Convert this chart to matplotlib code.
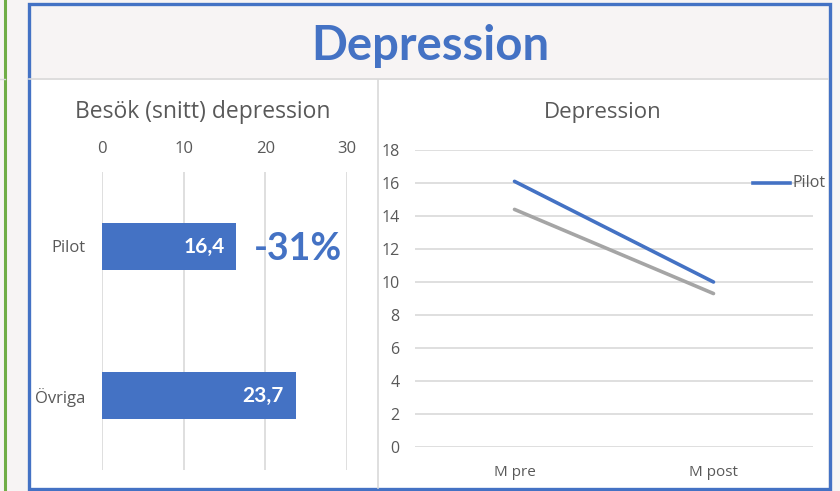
import matplotlib
matplotlib.use("Agg")
import matplotlib.pyplot as plt
from matplotlib.patches import Rectangle
from matplotlib.lines import Line2D

# data
bar_cats = ["Pilot", "Övriga"]
bar_vals = [16.4, 23.7]
bar_labels = ["16,4", "23,7"]
change_label = "-31%"

line_cats = ["M pre", "M post"]
pilot_vals = [16.1, 10.0]
other_vals = [14.4, 9.3]

BLUE = "#4472C4"
GRAY = "#A5A5A5"
GRID = "#D9D9D9"
TXT = "#595959"
BG = "#F7F4F4"

W, H = 840, 491
fig = plt.figure(figsize=(W / 100, H / 100), dpi=100, facecolor=BG)


def box(x0, y0, x1, y1):
    # pixel box (top-left origin) -> figure fraction rect
    return [x0 / W, 1 - y1 / H, (x1 - x0) / W, (y1 - y0) / H]


# page decorations
fig.add_artist(Line2D([5 / W, 5 / W], [0, 1], color="#70AD47", lw=2.2))
fig.add_artist(Line2D([0, 5 / W], [1 - 79 / H, 1 - 79 / H], color=GRID, lw=1))
fig.add_artist(Rectangle((29 / W, 1 - 488 / H), 799 / W, 408 / H,
                         facecolor="white", edgecolor="none", zorder=-5))
fig.add_artist(Line2D([29 / W, 828 / W], [1 - 79 / H, 1 - 79 / H], color=GRID, lw=1.2))
fig.add_artist(Line2D([378 / W, 378 / W], [1 - 80 / H, 1 - 488 / H], color=GRID, lw=1.2))
fig.add_artist(Rectangle((29 / W, 1 - 489 / H), 801 / W, 485 / H,
                         facecolor="none", edgecolor=BLUE, lw=2.4))

fig.text(430 / W, 1 - 46 / H, "Depression", ha="center", va="center",
         fontsize=34, fontweight="bold", color=BLUE, family="Lato")

# left: bar chart
ax1 = fig.add_axes(box(102, 172, 347, 470))
ypos = [1, 0]
ax1.barh(ypos, bar_vals, height=0.31, color=BLUE)
for y, v, lab in zip(ypos, bar_vals, bar_labels):
    ax1.text(v - 1.4, y, lab, ha="right", va="center", color="white",
             fontsize=15, fontweight="bold", family="Lato")
ax1.set_xlim(0, 30)
ax1.set_ylim(-0.5, 1.5)
ax1.set_xticks([0, 10, 20, 30])
ax1.set_yticks(ypos)
ax1.set_yticklabels(bar_cats)
ax1.xaxis.tick_top()
ax1.tick_params(axis="x", length=0, pad=11, labelsize=12, labelcolor=TXT)
ax1.tick_params(axis="y", length=0, pad=12, labelsize=12, labelcolor=TXT)
for lab in ax1.get_xticklabels() + ax1.get_yticklabels():
    lab.set_family("Open Sans")
ax1.grid(axis="x", color=GRID, lw=1.2)
ax1.set_axisbelow(True)
for s in ax1.spines.values():
    s.set_visible(False)
ax1.patch.set_alpha(0)
fig.text(203 / W, 1 - 112 / H, "Besök (snitt) depression", ha="center", va="center",
         fontsize=16.5, color=TXT, family="Open Sans")
fig.text(298 / W, 1 - 249 / H, change_label, ha="center", va="center",
         fontsize=27, fontweight="bold", color=BLUE, family="Lato")

# right: line chart
ax2 = fig.add_axes(box(415, 150, 813, 447))
xs = range(len(line_cats))
ax2.plot(xs, other_vals, color=GRAY, lw=2.6, solid_capstyle="round")
ax2.plot(xs, pilot_vals, color=BLUE, lw=2.6, solid_capstyle="round")
ax2.set_xlim(-0.5, 1.5)
ax2.set_ylim(0, 18)
ax2.set_yticks(range(0, 19, 2))
ax2.set_xticks(list(xs))
ax2.set_xticklabels(line_cats)
ax2.tick_params(axis="y", length=0, pad=11, labelsize=11.5, labelcolor=TXT)
ax2.tick_params(axis="x", length=0, pad=13, labelsize=11, labelcolor=TXT)
for lab in ax2.get_xticklabels() + ax2.get_yticklabels():
    lab.set_family("Open Sans")
ax2.grid(axis="y", color=GRID, lw=1.2)
ax2.set_axisbelow(True)
for s in ax2.spines.values():
    s.set_visible(False)
ax2.patch.set_alpha(0)
fig.text(603 / W, 1 - 112 / H, "Depression", ha="center", va="center",
         fontsize=16, color=TXT, family="Open Sans")

# legend (only Pilot visible inside the frame)
fig.add_artist(Line2D([753 / W, 790 / W], [1 - 183 / H, 1 - 183 / H], color=BLUE, lw=2.6))
fig.text(792 / W, 1 - 183 / H, "Pilot", ha="left", va="center",
         fontsize=11.5, color=TXT, family="Open Sans")

fig.savefig("out.png", dpi=100, facecolor=BG)
